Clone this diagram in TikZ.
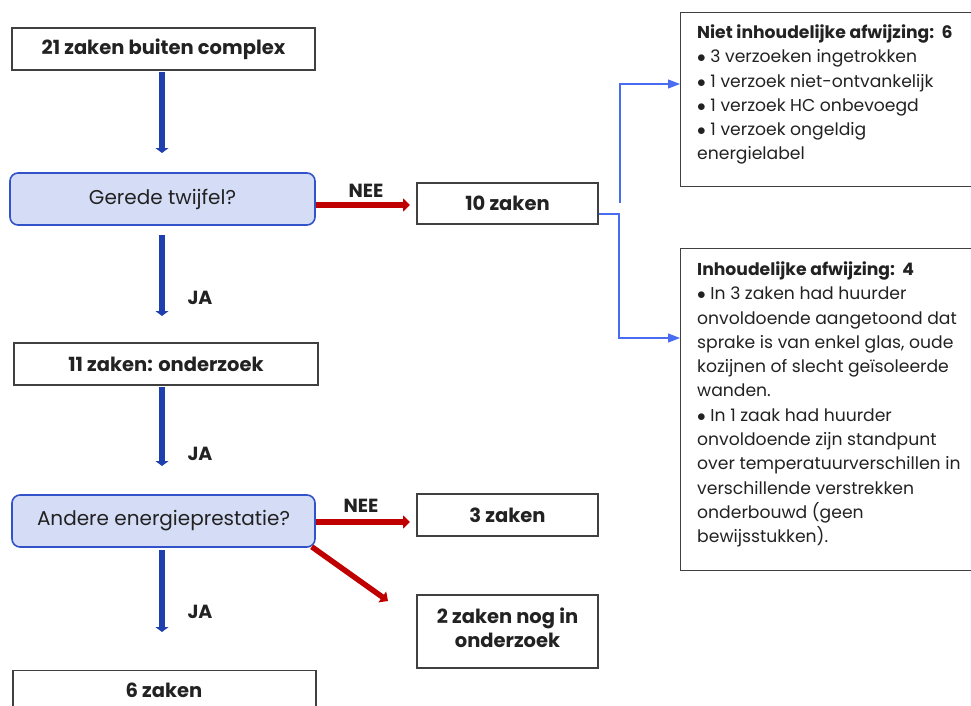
\documentclass[tikz,border=0pt]{standalone}
\usepackage{fontspec}
\setmainfont{Poppins}
\usetikzlibrary{arrows.meta}
\definecolor{darkblue}{HTML}{1E3FAE}
\definecolor{arrred}{HTML}{C00000}
\definecolor{qfill}{HTML}{D5DCF6}
\definecolor{qline}{HTML}{3152C8}
\definecolor{thinblue}{HTML}{4A6CF0}
\definecolor{txt}{HTML}{222222}
\tikzset{
  box/.style={draw=black!75, line width=1.1pt, rectangle, inner sep=0pt, font=\fontsize{19.5}{22}\selectfont\bfseries, text=txt, align=center},
  qbox/.style={draw=qline, fill=qfill, line width=1.6pt, rounded corners=8pt, inner sep=0pt, font=\fontsize{20}{22}\selectfont, text=txt},
  listtext/.style={inner sep=0pt, anchor=north west, align=left, font=\fontsize{17.2}{24.3}\selectfont, text=txt},
  bluearr/.style={draw=darkblue, line width=5.5pt, -{Triangle[width=13pt,length=5pt]}},
  redarr/.style={draw=arrred, line width=5.5pt, -{Triangle[width=13pt,length=7pt]}},
  thinarr/.style={draw=thinblue, line width=1.2pt, -{Triangle[width=9pt,length=12pt]}},
  lbl/.style={font=\fontsize{19}{20}\selectfont\bfseries, text=txt, inner sep=0pt}
}
\begin{document}
\begin{tikzpicture}[x=1pt,y=-1pt]
\useasboundingbox (0,0) rectangle (971,706);
% left column
\node[box, minimum width=303pt, minimum height=42pt] (A) at (163.5,49) {21 zaken buiten complex};
\node[qbox, minimum width=305pt, minimum height=52pt] (B) at (162.5,199) {Gerede twijfel?};
\node[box, minimum width=304pt, minimum height=42pt] (E) at (166,364) {11 zaken: onderzoek};
\node[qbox, minimum width=303pt, minimum height=52pt] (F) at (163.5,521) {Andere energieprestatie?};
\node[box, minimum width=303pt, minimum height=50pt, anchor=north] (I) at (164.5,670) {};
\node[box, draw=none] (Itext) at (164,690) {6 zaken};
% middle column
\node[box, minimum width=181pt, minimum height=41pt] (C) at (507.5,203.5) {10 zaken};
\node[box, minimum width=181pt, minimum height=42pt] (G) at (507.5,515) {3 zaken};
\node[box, minimum width=181pt, minimum height=73pt] (H) at (507.5,631.5) {};
\node[box, draw=none, font=\fontsize{19.5}{24}\selectfont\bfseries] (Htext) at (507.5,628) {2 zaken nog in\\onderzoek};
% right boxes
\node[draw=black!75, line width=1.1pt, rectangle, inner sep=0pt, minimum width=300pt, minimum height=174pt, anchor=north west] (D1) at (680,12) {};
\node[listtext] (D1t) at (697,24.5) {\textbf{Niet inhoudelijke afwijzing:\ \ 6}\\
$\bullet$ 3 verzoeken ingetrokken\\
$\bullet$ 1 verzoek niet-ontvankelijk\\
$\bullet$ 1 verzoek HC onbevoegd\\
$\bullet$ 1 verzoek ongeldig\\
energielabel};
\node[draw=black!75, line width=1.1pt, rectangle, inner sep=0pt, minimum width=300pt, minimum height=322pt, anchor=north west] (D2) at (680,248) {};
\node[listtext] (D2t) at (697,261.5) {\textbf{Inhoudelijke afwijzing:\ \ 4}\\
$\bullet$ In 3 zaken had huurder\\
onvoldoende aangetoond dat\\
sprake is van enkel glas, oude\\
kozijnen of slecht geïsoleerde\\
wanden.\\
$\bullet$ In 1 zaak had huurder\\
onvoldoende zijn standpunt\\
over temperatuurverschillen in\\
verschillende verstrekken\\
onderbouwd (geen\\
bewijsstukken).};
% arrows
\coordinate (a1e) at (162,153);
\coordinate (a2e) at (162,316);
\coordinate (a3e) at (162,466);
\coordinate (a4e) at (162,632);
\coordinate (r1e) at (410,205);
\coordinate (r2e) at (410,522);
\coordinate (r3e) at (388,601);
\draw[bluearr] (162,72) -- (a1e);
\draw[bluearr] (162,235) -- (a2e);
\draw[bluearr] (162,387) -- (a3e);
\draw[bluearr] (162,550) -- (a4e);
\draw[redarr] (B.east |- r1e) -- (r1e);
\draw[redarr] (F.east |- r2e) -- (r2e);
\draw[redarr] (F.south east) ++(-4,-1) -- (r3e);
\node[lbl] (nee1) at (366,191) {NEE};
\node[lbl] (nee2) at (361,506) {NEE};
\node[lbl] (ja1) at (200,298) {JA};
\node[lbl] (ja2) at (200,454) {JA};
\node[lbl] (ja3) at (200,612) {JA};
% thin connectors
\coordinate (t1) at (619,214);
\coordinate (t2) at (620,203);
\draw[thinarr] (C.east |- t1) -- (t1) |- (D2.west |- 0,338);
\draw[thinarr] (t2) |- (D1.west |- 0,84);
\end{tikzpicture}
\end{document}
